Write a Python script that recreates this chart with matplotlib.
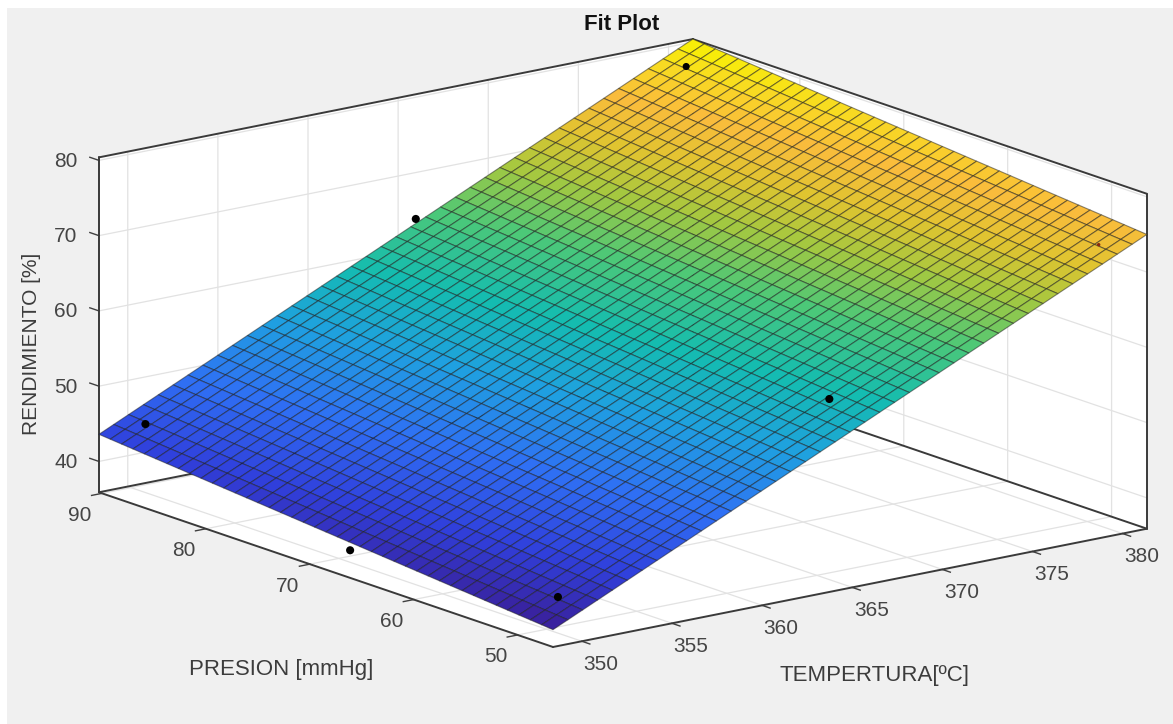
import numpy as np
import matplotlib
matplotlib.use('Agg')
import matplotlib.pyplot as plt
from matplotlib.colors import LinearSegmentedColormap
from matplotlib.patches import Rectangle
from mpl_toolkits.mplot3d import proj3d

plt.rcParams['font.family'] = ['Liberation Sans', 'DejaVu Sans']

# ---- values ----
title = 'Fit Plot'
xlabel = 'TEMPERTURA[ºC]'
ylabel = 'PRESION [mmHg]'
zlabel = 'RENDIMIENTO [%]'
t_limits = [348.4, 381.35]
p_limits = [46.6, 90.3]
z_limits = [35.9, 80.4]
t_ticks = [350, 355, 360, 365, 370, 375, 380]
p_ticks = [50, 60, 70, 80, 90]
z_ticks = [40, 50, 60, 70, 80]
# fitted plane at the four corners of the plot: rows T min/max, columns P min/max
z_corners = [[38.2, 43.6], [75.0, 80.4]]
pts_t = [350, 350, 350, 365, 365, 380, 380]
pts_p = [88.6, 68.9, 48.9, 88.6, 48.8, 88.6, 48.9]
pts_z = [45.0, 37.5, 40.7, 65.1, 59.9, 78.2, 73.2]
pts_size = [34, 34, 34, 34, 34, 26, 6]
pts_color = ['black'] * 6 + ['#8a2a10']
n_cells = 40

W, H = 1173, 724
fig = plt.figure(figsize=(W / 100, H / 100), dpi=100, facecolor='white')
fig.add_artist(Rectangle((7 / W, 0), 1, 1 - 8 / H, transform=fig.transFigure,
                         facecolor='#f0f0f0', edgecolor='none', zorder=-5))

ax = fig.add_axes([0, -0.1, W / W, W / H], projection='3d', computed_zorder=False)
ax.set_facecolor('none')
ax.set_proj_type('ortho')
ax.view_init(elev=15.1, azim=232.6)
ax.set_xlim(*t_limits, view_margin=0)
ax.set_ylim(*p_limits, view_margin=0)
ax.set_zlim(*z_limits, view_margin=0)
ax.set_box_aspect((750, 750, 348), zoom=1.0)
ax.set_xticks(t_ticks)
ax.set_yticks(p_ticks)
ax.set_zticks(z_ticks)
ax.set_xticklabels([])
ax.set_yticklabels([])
ax.set_zticklabels([])
ax.tick_params(axis='both', color='#404040')

for a in (ax.xaxis, ax.yaxis, ax.zaxis):
    a.set_pane_color('white')
    a.pane.set_edgecolor((1, 1, 1, 0))
    a.line.set_color((0, 0, 0, 0))
    a._axinfo['grid'].update(color='#e2e2e2', linewidth=0.9)
    a._axinfo['tick'].update(inward_factor=0.22, outward_factor=0.0, linewidth={True: 1.0, False: 1.0})
ax.zaxis._axinfo['tick'].update(inward_factor=0.0, outward_factor=0.25)
ax.zaxis._get_tickdir = lambda pos: 1

# surface
cmap = LinearSegmentedColormap.from_list('fit', [
    (0.00, '#3a1f98'), (0.12, '#3040dc'), (0.25, '#2f70f4'), (0.38, '#1fa0e0'),
    (0.50, '#14bcb0'), (0.62, '#4cc878'), (0.72, '#a4c840'), (0.80, '#e0c430'),
    (0.88, '#fabc3c'), (0.95, '#f8dc20'), (1.00, '#f8f400')])
tt = np.linspace(0, 1, n_cells + 1)
pp = np.linspace(0, 1, n_cells + 1)
U, V = np.meshgrid(tt, pp)
T = t_limits[0] + U * (t_limits[1] - t_limits[0])
P = p_limits[0] + V * (p_limits[1] - p_limits[0])
zc = np.array(z_corners)
Z = zc[0, 0] * (1 - U) * (1 - V) + zc[1, 0] * U * (1 - V) + zc[0, 1] * (1 - U) * V + zc[1, 1] * U * V
ax.plot_surface(T, P, Z, rstride=1, cstride=1, cmap=cmap, vmin=zc.min(), vmax=zc.max(),
                linewidth=0.8, edgecolor=(0.1, 0.1, 0.1, 0.5), shade=False,
                antialiased=True, zorder=2)
ax.scatter(pts_t, pts_p, pts_z, s=pts_size, c=pts_color, depthshade=False, linewidths=0, zorder=3)

# box outline
t0, t1 = t_limits
p0, p1 = p_limits
z0, z1 = z_limits
edges = [((t0, t1), (p0, p0), (z0, z0)), ((t0, t0), (p0, p1), (z0, z0)),
         ((t1, t1), (p0, p1), (z0, z0)), ((t0, t1), (p1, p1), (z0, z0)),
         ((t0, t0), (p1, p1), (z0, z1)), ((t1, t1), (p0, p0), (z0, z1)),
         ((t1, t1), (p1, p1), (z0, z1)), ((t0, t1), (p1, p1), (z1, z1)),
         ((t1, t1), (p0, p1), (z1, z1))]
for ex, ey, ez in edges:
    ax.plot(ex, ey, ez, color='#3a3a3a', lw=1.4, zorder=1, solid_capstyle='round')


def corner_px(t, p, z):
    x, y, _ = proj3d.proj_transform(t, p, z, ax.get_proj())
    return ax.transData.transform((x, y))


# fit the projected box to the reference's left and right bottom corners
fig.canvas.draw()
span = corner_px(t1, p0, z0)[0] - corner_px(t0, p1, z0)[0]
ax.set_box_aspect((750, 750, 348), zoom=1048 / span)
fig.canvas.draw()
front = corner_px(t0, p0, z0)
pos = ax.get_position()
ax.set_position([pos.x0 + (553 - front[0]) / W, pos.y0 + ((H - 647) - front[1]) / H, pos.width, pos.height])
fig.canvas.draw()


def tick_label(value_xyz, text, dx, dy):
    px = corner_px(*value_xyz)
    fig.text((px[0] + dx) / W, (px[1] + dy) / H, text, ha='center', va='center',
             fontsize=15, color='#454545')


for v in t_ticks:
    tick_label((v, p0, z0), str(v), 19, -23)
for v in p_ticks:
    tick_label((t0, v, z0), str(v), -22, -22)
for v in z_ticks:
    tick_label((t0, p1, v), str(v), -33, -1)

fig.text(622 / W, 1 - 25 / H, title, ha='center', va='center', fontsize=16, fontweight='bold', color='#111111')
fig.text(875 / W, 1 - 676 / H, xlabel, ha='center', va='center', fontsize=16, color='#3c3c3c')
fig.text(281 / W, 1 - 669 / H, ylabel, ha='center', va='center', fontsize=16, color='#3c3c3c')
fig.text(32 / W, 1 - 344 / H, zlabel, ha='center', va='center', rotation=90, fontsize=15, color='#3c3c3c')

fig.savefig('out.png', dpi=100, facecolor='white')
